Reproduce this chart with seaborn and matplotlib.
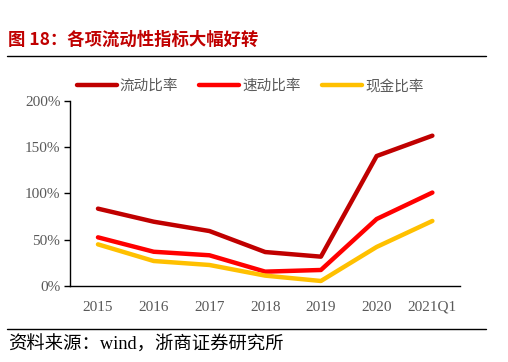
import matplotlib
matplotlib.use("Agg")
import matplotlib.pyplot as plt
import seaborn as sns
import pandas as pd
from matplotlib.ticker import FuncFormatter

# dati
periodi = ['2015', '2016', '2017', '2018', '2019', '2020', '2021Q1']
liquidita_corrente = [83.6, 69.5, 59.4, 36.7, 31.7, 140.5, 162.5]
liquidita_rapida = [52.6, 37.0, 33.2, 15.5, 17.3, 72.4, 101.0]
liquidita_cassa = [45.0, 27.0, 22.7, 11.2, 5.4, 42.2, 70.3]
serie_nomi = ['流动比率', '速动比率', '现金比率']

colori = {'流动比率': '#C00000', '速动比率': '#FF0000', '现金比率': '#FFC000'}


def main():
    sns.set_style("white")
    plt.rcParams['font.family'] = ['Noto Sans CJK SC', 'DejaVu Sans']

    df = pd.DataFrame({'periodo': periodi,
                       serie_nomi[0]: liquidita_corrente,
                       serie_nomi[1]: liquidita_rapida,
                       serie_nomi[2]: liquidita_cassa})
    df_long = df.melt(id_vars='periodo', var_name='serie', value_name='valore')

    fig = plt.figure(figsize=(5.08, 3.62), dpi=100)
    ax = fig.add_axes([0.138, 0.21, 0.768, 0.511])

    sns.lineplot(data=df_long, x='periodo', y='valore', hue='serie',
                 hue_order=serie_nomi, palette=colori, linewidth=3.2,
                 sort=False, ax=ax, legend=False)

    ax.set_ylim(0, 200)
    ax.set_xlim(-0.5, len(periodi) - 0.5)
    ax.set_yticks([0, 50, 100, 150, 200])
    ax.yaxis.set_major_formatter(FuncFormatter(lambda v, p: f'{int(v)}%'))
    ax.set_xlabel('')
    ax.set_ylabel('')

    for s in ['top', 'right']:
        ax.spines[s].set_visible(False)
    for s in ['left', 'bottom']:
        ax.spines[s].set_color('#000000')
        ax.spines[s].set_linewidth(1.0)

    ax.tick_params(axis='y', direction='out', length=4, width=1, color='#000000',
                   left=True, labelsize=11, labelcolor='#595959', pad=3)
    ax.tick_params(axis='x', bottom=False, labelsize=11, labelcolor='#595959', pad=7)
    for lab in ax.get_xticklabels() + ax.get_yticklabels():
        lab.set_family('Liberation Serif')

    # legenda manuale
    handles = [plt.Line2D([0], [0], color=colori[n], lw=3.2, label=n) for n in serie_nomi]
    fig.legend(handles=handles, loc='center left', bbox_to_anchor=(0.125, 0.762),
               ncol=3, frameon=False, handlelength=2.75, handletextpad=0.2,
               columnspacing=1.45, prop={'size': 10.5},
               labelcolor='#595959')

    # titolo e fonte
    fig.text(0.016, 0.889, '图 18：各项流动性指标大幅好转', color='#C00000',
             fontsize=12.5, fontweight='bold', va='center', ha='left')
    fig.add_artist(plt.Line2D([0.014, 0.957], [0.845, 0.845], color='black', lw=1.0))
    fig.add_artist(plt.Line2D([0.014, 0.957], [0.091, 0.091], color='black', lw=1.0))
    fig.text(0.016, 0.047, '资料来源：wind，浙商证券研究所', color='#000000',
             fontsize=13.2, va='center', ha='left',
             family=['Liberation Serif', 'Noto Sans CJK SC'])

    fig.savefig('out.png', dpi=100)


if __name__ == '__main__':
    main()
